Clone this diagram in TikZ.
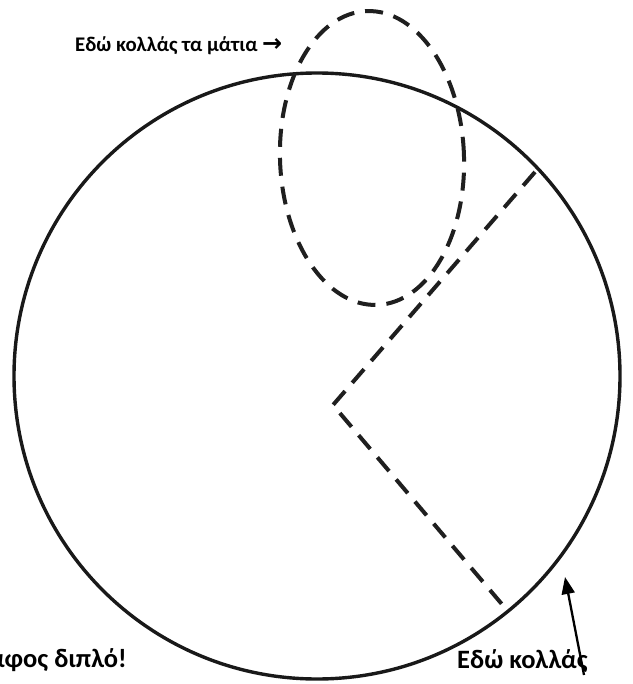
\documentclass[tikz,border=0pt]{standalone}
\usepackage{fontspec}
\setmainfont{Carlito}
\newfontfamily\symfont{DejaVu Sans}
\usetikzlibrary{arrows.meta}
\begin{document}
\begin{tikzpicture}[x=1pt,y=-1pt,
  outline/.style={line width=3.4pt,black!90},
  cutline/.style={line width=4pt,black!88,dash pattern=on 18pt off 11pt},
  label/.style={font=\bfseries\fontsize{26.5}{30}\selectfont,inner sep=0pt},
  smalllabel/.style={font=\bfseries\fontsize{20.8}{24}\selectfont,inner sep=0pt},
  pointer/.style={line width=2.3pt,-{Triangle[length=17pt,width=13pt]}}]
\useasboundingbox (0,0) rectangle (632,684);
\fill[white] (0,0) rectangle (632,684);
% main circle
\node[draw,outline,circle,minimum size=606pt,inner sep=0pt] (face) at (317,376) {};
% eye region (dashed egg)
\draw[cutline,rotate around={2:(372,158)}] (372,158) ellipse [x radius=92pt, y radius=147pt];
% V-shaped cut
\coordinate (vtop) at (535,172);
\coordinate (vmid) at (333,405);
\coordinate (vbot) at (506,609);
\draw[cutline] (vtop) -- (vmid) -- (vbot);
% labels
\node[smalllabel,anchor=base west] (eyes) at (75,52) {Εδώ κολλάς τα μάτια {\symfont\bfseries\fontsize{24}{24}\selectfont →}};
\node[label,anchor=base east] (fold) at (127,667) {αφος διπλό!};
\node[label,anchor=base west] (glue) at (457,668) {Εδώ κολλάς};
\coordinate (tail) at (584,675);
\coordinate (tip) at (565,577);
\draw[pointer] (tail) -- (tip);
\end{tikzpicture}
\end{document}
